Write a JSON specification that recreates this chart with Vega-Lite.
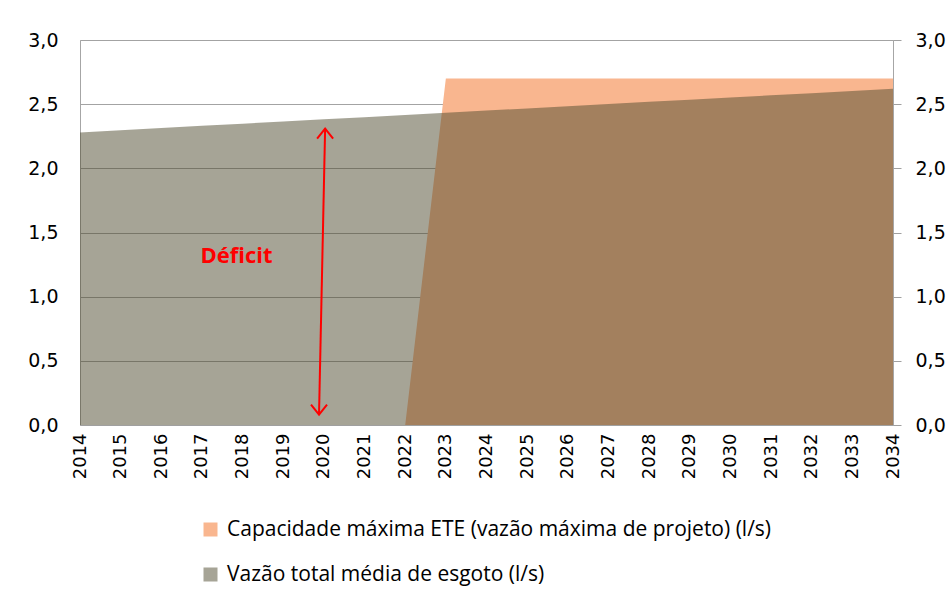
{
  "$schema": "https://vega.github.io/schema/vega-lite/v6.json",
  "width": 813,
  "height": 385,
  "autosize": {"type": "none"},
  "padding": {"left": 80, "top": 40, "right": 53, "bottom": 172},
  "background": "#FFFFFF",
  "config": {
    "view": {"stroke": "#A6A6A6", "strokeWidth": 1},
    "font": "DejaVu Sans"
  },
  "datasets": {
    "series": [
      {"ano": 2014, "serie": "Capacidade máxima ETE (vazão máxima de projeto) (l/s)", "valor": 0},
      {"ano": 2015, "serie": "Capacidade máxima ETE (vazão máxima de projeto) (l/s)", "valor": 0},
      {"ano": 2016, "serie": "Capacidade máxima ETE (vazão máxima de projeto) (l/s)", "valor": 0},
      {"ano": 2017, "serie": "Capacidade máxima ETE (vazão máxima de projeto) (l/s)", "valor": 0},
      {"ano": 2018, "serie": "Capacidade máxima ETE (vazão máxima de projeto) (l/s)", "valor": 0},
      {"ano": 2019, "serie": "Capacidade máxima ETE (vazão máxima de projeto) (l/s)", "valor": 0},
      {"ano": 2020, "serie": "Capacidade máxima ETE (vazão máxima de projeto) (l/s)", "valor": 0},
      {"ano": 2021, "serie": "Capacidade máxima ETE (vazão máxima de projeto) (l/s)", "valor": 0},
      {"ano": 2022, "serie": "Capacidade máxima ETE (vazão máxima de projeto) (l/s)", "valor": 0},
      {"ano": 2023, "serie": "Capacidade máxima ETE (vazão máxima de projeto) (l/s)", "valor": 2.7},
      {"ano": 2024, "serie": "Capacidade máxima ETE (vazão máxima de projeto) (l/s)", "valor": 2.7},
      {"ano": 2025, "serie": "Capacidade máxima ETE (vazão máxima de projeto) (l/s)", "valor": 2.7},
      {"ano": 2026, "serie": "Capacidade máxima ETE (vazão máxima de projeto) (l/s)", "valor": 2.7},
      {"ano": 2027, "serie": "Capacidade máxima ETE (vazão máxima de projeto) (l/s)", "valor": 2.7},
      {"ano": 2028, "serie": "Capacidade máxima ETE (vazão máxima de projeto) (l/s)", "valor": 2.7},
      {"ano": 2029, "serie": "Capacidade máxima ETE (vazão máxima de projeto) (l/s)", "valor": 2.7},
      {"ano": 2030, "serie": "Capacidade máxima ETE (vazão máxima de projeto) (l/s)", "valor": 2.7},
      {"ano": 2031, "serie": "Capacidade máxima ETE (vazão máxima de projeto) (l/s)", "valor": 2.7},
      {"ano": 2032, "serie": "Capacidade máxima ETE (vazão máxima de projeto) (l/s)", "valor": 2.7},
      {"ano": 2033, "serie": "Capacidade máxima ETE (vazão máxima de projeto) (l/s)", "valor": 2.7},
      {"ano": 2034, "serie": "Capacidade máxima ETE (vazão máxima de projeto) (l/s)", "valor": 2.7},
      {"ano": 2014, "serie": "Vazão total média de esgoto (l/s)", "valor": 2.280},
      {"ano": 2015, "serie": "Vazão total média de esgoto (l/s)", "valor": 2.297},
      {"ano": 2016, "serie": "Vazão total média de esgoto (l/s)", "valor": 2.314},
      {"ano": 2017, "serie": "Vazão total média de esgoto (l/s)", "valor": 2.331},
      {"ano": 2018, "serie": "Vazão total média de esgoto (l/s)", "valor": 2.348},
      {"ano": 2019, "serie": "Vazão total média de esgoto (l/s)", "valor": 2.365},
      {"ano": 2020, "serie": "Vazão total média de esgoto (l/s)", "valor": 2.382},
      {"ano": 2021, "serie": "Vazão total média de esgoto (l/s)", "valor": 2.399},
      {"ano": 2022, "serie": "Vazão total média de esgoto (l/s)", "valor": 2.416},
      {"ano": 2023, "serie": "Vazão total média de esgoto (l/s)", "valor": 2.433},
      {"ano": 2024, "serie": "Vazão total média de esgoto (l/s)", "valor": 2.450},
      {"ano": 2025, "serie": "Vazão total média de esgoto (l/s)", "valor": 2.467},
      {"ano": 2026, "serie": "Vazão total média de esgoto (l/s)", "valor": 2.484},
      {"ano": 2027, "serie": "Vazão total média de esgoto (l/s)", "valor": 2.501},
      {"ano": 2028, "serie": "Vazão total média de esgoto (l/s)", "valor": 2.518},
      {"ano": 2029, "serie": "Vazão total média de esgoto (l/s)", "valor": 2.535},
      {"ano": 2030, "serie": "Vazão total média de esgoto (l/s)", "valor": 2.552},
      {"ano": 2031, "serie": "Vazão total média de esgoto (l/s)", "valor": 2.569},
      {"ano": 2032, "serie": "Vazão total média de esgoto (l/s)", "valor": 2.586},
      {"ano": 2033, "serie": "Vazão total média de esgoto (l/s)", "valor": 2.603},
      {"ano": 2034, "serie": "Vazão total média de esgoto (l/s)", "valor": 2.620}
    ],
    "seta": [{"x": 2020.03, "y": 2.31, "x2": 2019.88, "y2": 0.08}],
    "ponta_cima": [{"x": 2020.03, "y": 2.31}],
    "ponta_baixo": [{"x": 2019.88, "y": 0.08}],
    "rotulo": [{"x": 2017.85, "y": 1.32, "texto": "Déficit"}]
  },
  "layer": [
    {
      "data": {"name": "series"},
      "mark": {"type": "area", "line": false, "interpolate": "linear"},
      "encoding": {
        "x": {
          "field": "ano",
          "type": "quantitative",
          "scale": {"domain": [2014, 2034], "nice": false, "zero": false},
          "axis": {
            "values": [2014, 2015, 2016, 2017, 2018, 2019, 2020, 2021, 2022, 2023, 2024, 2025, 2026, 2027, 2028, 2029, 2030, 2031, 2032, 2033, 2034],
            "format": "d",
            "labelAngle": -90,
            "labelFontSize": 18,
            "labelColor": "#000000",
            "labelPadding": 8,
            "ticks": false,
            "grid": false,
            "domainColor": "#A0A0A0",
            "labelOverlap": false,
            "labelFlush": false,
            "title": null
          }
        },
        "y": {
          "field": "valor",
          "type": "quantitative",
          "stack": null,
          "scale": {"domain": [0, 3], "nice": false},
          "axis": {
            "orient": "left",
            "values": [0, 0.5, 1, 1.5, 2, 2.5, 3],
            "labelExpr": "replace(format(datum.value, '.1f'), '.', ',')",
            "labelFontSize": 19,
            "labelColor": "#000000",
            "labelPadding": 22,
            "ticks": false,
            "domain": false,
            "grid": true,
            "gridColor": "#A3A3A3",
            "gridWidth": 1,
            "labelFlush": false,
            "title": null
          }
        },
        "color": {
          "field": "serie",
          "type": "nominal",
          "scale": {
            "domain": ["Capacidade máxima ETE (vazão máxima de projeto) (l/s)", "Vazão total média de esgoto (l/s)"],
            "range": ["#F9B68F", "#4D492D"]
          },
          "legend": {
            "title": null,
            "orient": "none",
            "legendX": 120,
            "legendY": 479,
            "direction": "vertical",
            "labelFont": "Open Sans",
            "labelFontSize": 21,
            "labelColor": "#000000",
            "labelOffset": 6,
            "labelLimit": 800,
            "symbolType": "square",
            "symbolSize": 196,
            "symbolStrokeWidth": 0,
            "rowPadding": 23
          }
        },
        "opacity": {
          "field": "serie",
          "type": "nominal",
          "scale": {
            "domain": ["Capacidade máxima ETE (vazão máxima de projeto) (l/s)", "Vazão total média de esgoto (l/s)"],
            "range": [1, 0.5]
          },
          "legend": {
            "title": null,
            "orient": "none",
            "legendX": 120,
            "legendY": 479,
            "direction": "vertical",
            "labelFont": "Open Sans",
            "labelFontSize": 21,
            "labelColor": "#000000",
            "labelOffset": 6,
            "labelLimit": 800,
            "symbolType": "square",
            "symbolSize": 196,
            "symbolStrokeWidth": 0,
            "rowPadding": 23
          }
        }
      }
    },
    {
      "data": {"name": "seta"},
      "mark": {"type": "rule", "color": "#FF0000", "strokeWidth": 2},
      "encoding": {
        "x": {"field": "x", "type": "quantitative"},
        "x2": {"field": "x2"},
        "y": {
          "field": "y",
          "type": "quantitative",
          "scale": {"domain": [0, 3], "nice": false},
          "axis": {
            "orient": "right",
            "values": [0, 0.5, 1, 1.5, 2, 2.5, 3],
            "labelExpr": "replace(format(datum.value, '.1f'), '.', ',')",
            "labelFontSize": 19,
            "labelColor": "#000000",
            "labelPadding": 14,
            "ticks": true,
            "tickColor": "#A0A0A0",
            "tickSize": 8,
            "domain": false,
            "grid": false,
            "labelFlush": false,
            "title": null
          }
        },
        "y2": {"field": "y2"}
      }
    },
    {
      "data": {"name": "ponta_cima"},
      "mark": {"type": "point", "shape": "M-0.8,1L0,0L0.8,1", "filled": false, "stroke": "#FF0000", "strokeWidth": 2, "size": 400, "opacity": 1},
      "encoding": {
        "x": {"field": "x", "type": "quantitative"},
        "y": {"field": "y", "type": "quantitative", "scale": {"domain": [0, 3], "nice": false}, "axis": null}
      }
    },
    {
      "data": {"name": "ponta_baixo"},
      "mark": {"type": "point", "shape": "M-0.8,-1L0,0L0.8,-1", "filled": false, "stroke": "#FF0000", "strokeWidth": 2, "size": 400, "opacity": 1},
      "encoding": {
        "x": {"field": "x", "type": "quantitative"},
        "y": {"field": "y", "type": "quantitative", "scale": {"domain": [0, 3], "nice": false}, "axis": null}
      }
    },
    {
      "data": {"name": "rotulo"},
      "mark": {"type": "text", "font": "Open Sans", "fontWeight": "bold", "fontSize": 22, "color": "#FF0000", "align": "center", "baseline": "middle"},
      "encoding": {
        "x": {"field": "x", "type": "quantitative"},
        "y": {"field": "y", "type": "quantitative", "scale": {"domain": [0, 3], "nice": false}, "axis": null},
        "text": {"field": "texto"}
      }
    }
  ],
  "resolve": {"scale": {"y": "independent"}}
}
